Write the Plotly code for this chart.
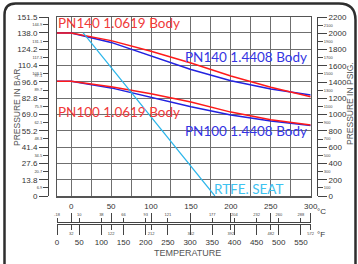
import plotly.graph_objects as go

# ---------------- data ----------------
temp_c = [-18, 0, 50, 100, 150, 200, 250, 300]
pn140_10619 = [138.0, 138.0, 131.5, 122.5, 112.5, 101.5, 92.0, 84.0]
pn140_14408 = [138.0, 138.0, 130.0, 118.5, 107.0, 97.5, 90.5, 85.5]
pn100_10619 = [97.1, 97.1, 92.5, 86.5, 79.5, 71.0, 64.5, 60.0]
pn100_14408 = [97.1, 97.1, 91.5, 83.5, 75.5, 68.5, 63.5, 59.6]
ptfe_t = [15, 180]
ptfe_bar = [138.0, 0.0]

bar_major = ["0", "13.8", "27.6", "41.4", "55.2", "69.0", "82.8", "96.6",
             "110.4", "124.2", "138.0", "151.5"]
bar_minor = ["6.9", "20.7", "34.5", "48.3", "62.1", "75.9", "89.7", "97.1",
             "103.5", "117.3", "131.1", "144.9"]
psi_major = ["0", "200", "400", "600", "800", "1000", "1200", "1400", "1600",
             "1800", "2000", "2200"]
psi_minor = ["100", "300", "500", "700", "900", "1100", "1300", "1500",
             "1700", "1900", "2100"]
c_major = ["0", "50", "100", "150", "200", "250", "300"]
c_in_f = ["32", "122", "212", "302", "392", "482", "572"]
f_major = ["0", "50", "100", "150", "200", "250", "300", "350", "400",
           "450", "500", "550"]
f_in_c = ["-18", "10", "38", "66", "93", "121", "", "177", "204", "232",
          "260", "288"]

# ---------------- geometry helpers ----------------
W, H = 358, 264
L, R, T, B = 48, 41, 17, 20
PW = W - L - R
PH = H - T - B


def px2x(px):
    return (px - L) / PW


def py2y(py):
    return (H - B - py) / PH


XDOM = [px2x(57), px2x(310.7)]
YDOM = [py2y(196), 1.0]
XR = [-17.78, 300]
YR = [0, 151.5]
PSIR = [0, 2200]


def f2c(f):
    return (float(f) - 32) / 1.8


AX = "#444444"
TF = "Liberation Sans, Arial, sans-serif"
LF = "Lato, Open Sans, sans-serif"

fig = go.Figure()

fig.add_trace(go.Scatter(x=temp_c, y=pn140_14408, mode="lines",
                         line=dict(color="#2222e0", width=1.5), showlegend=False))
fig.add_trace(go.Scatter(x=temp_c, y=pn100_14408, mode="lines",
                         line=dict(color="#2222e0", width=1.5), showlegend=False))
fig.add_trace(go.Scatter(x=temp_c, y=pn140_10619, mode="lines",
                         line=dict(color="#ff1a1a", width=1.5), showlegend=False))
fig.add_trace(go.Scatter(x=temp_c, y=pn100_10619, mode="lines",
                         line=dict(color="#ff1a1a", width=1.5), showlegend=False))
fig.add_trace(go.Scatter(x=ptfe_t, y=ptfe_bar, mode="lines",
                         line=dict(color="#2bb5ea", width=1.2), showlegend=False))

# dummy traces to register auxiliary axes
for xa, ya in [("x", "y2"), ("x", "y3"), ("x", "y4"), ("x", "y5"),
               ("x2", "y"), ("x3", "y"), ("x4", "y"), ("x5", "y")]:
    fig.add_trace(go.Scatter(x=[None], y=[None], xaxis=xa, yaxis=ya,
                             showlegend=False, hoverinfo="skip"))

common = dict(automargin=False, showgrid=False, zeroline=False, tickcolor=AX,
              linecolor=AX, tickwidth=1, linewidth=1)

bar_minor_text = [t + "<br> <br> " if t == "97.1" else t for t in bar_minor]

layout = dict(
    width=W, height=H, template="none",
    paper_bgcolor="white", plot_bgcolor="white",
    margin=dict(l=L, r=R, t=T, b=B, pad=0),
    showlegend=False,
    xaxis=dict(domain=XDOM, range=XR, tick0=0, dtick=25, showgrid=True,
               gridcolor="#6f6f6f", gridwidth=1, showticklabels=False,
               ticks="", showline=True, mirror=True, linecolor="#555555",
               linewidth=1.5, zeroline=False, automargin=False),
    yaxis=dict(domain=YDOM, range=YR, tick0=0, dtick=13.8, showgrid=True,
               gridcolor="#6f6f6f", gridwidth=1, showticklabels=False,
               ticks="", showline=True, mirror=True, linecolor="#555555",
               linewidth=1.5, zeroline=False, automargin=False),
    yaxis2=dict(common, overlaying="y", anchor="free", position=0, side="left",
                range=YR, tickmode="array",
                tickvals=[float(v) for v in bar_major], ticktext=bar_major,
                ticks="outside", ticklen=9, showline=True,
                tickfont=dict(family=TF, size=8, color="#333333")),
    yaxis3=dict(common, overlaying="y", anchor="free", position=0, side="left",
                range=YR, tickmode="array",
                tickvals=[float(v) for v in bar_minor], ticktext=bar_minor_text,
                ticks="outside", ticklen=5, showline=False,
                tickfont=dict(family=TF, size=4, color="#444444")),
    yaxis4=dict(common, overlaying="y", anchor="free", position=1, side="right",
                range=PSIR, tickmode="array",
                tickvals=[float(v) for v in psi_major], ticktext=psi_major,
                ticks="outside", ticklen=9, showline=True,
                tickfont=dict(family=TF, size=8, color="#333333")),
    yaxis5=dict(common, overlaying="y", anchor="free", position=1, side="right",
                range=PSIR, tickmode="array",
                tickvals=[float(v) for v in psi_minor], ticktext=psi_minor,
                ticks="outside", ticklen=5, showline=False,
                tickfont=dict(family=TF, size=4, color="#444444")),
    xaxis2=dict(common, overlaying="x", anchor="free", position=py2y(221.5),
                side="top", range=XR, tickmode="array",
                tickvals=[float(v) for v in c_major], ticktext=c_major,
                ticks="outside", ticklen=9, showline=True,
                tickfont=dict(family=TF, size=8, color="#333333")),
    xaxis3=dict(common, overlaying="x", anchor="free", position=py2y(224),
                side="bottom", range=XR, tickmode="array",
                tickvals=[float(v) for v in c_major], ticktext=c_in_f,
                ticks="outside", ticklen=5, showline=False,
                tickfont=dict(family=TF, size=4, color="#444444")),
    xaxis4=dict(common, overlaying="x", anchor="free", position=py2y(224),
                side="bottom", range=XR, tickmode="array",
                tickvals=[f2c(v) for v in f_major], ticktext=f_major,
                ticks="outside", ticklen=10, showline=True,
                tickfont=dict(family=TF, size=8, color="#333333")),
    xaxis5=dict(common, overlaying="x", anchor="free", position=py2y(221.5),
                side="top", range=XR, tickmode="array",
                tickvals=[f2c(v) for v, t in zip(f_major, f_in_c) if t],
                ticktext=[t for t in f_in_c if t],
                ticks="outside", ticklen=4, showline=False,
                tickfont=dict(family=TF, size=4, color="#444444")),
)
fig.update_layout(**layout)

ann = []


def add_text(text, px, py, size, color, xanchor="center", angle=0, family=LF):
    ann.append(dict(text=text, x=px2x(px), y=py2y(py), xref="paper",
                    yref="paper", showarrow=False, xanchor=xanchor,
                    yanchor="middle", textangle=angle,
                    font=dict(family=family, size=size, color=color),
                    borderpad=0))


add_text("PN140 1.0619 Body", 57, 23, 13.5, "#f03a3a", "left")
add_text("PN140 1.4408 Body", 308, 57, 13.5, "#3535e2", "right")
add_text("PN100 1.0619 Body", 57, 112, 13.5, "#f03a3a", "left")
add_text("PN100 1.4408 Body", 308, 131, 13.5, "#3535e2", "right")
add_text("RTFE. SEAT", 284, 189, 13.5, "#3ec2f0", "right")
add_text("PRESSURE IN BAR", 17, 108, 8.5, "#555555", angle=-90, family=TF)
add_text("PRESSURE IN PSIG.", 350, 104, 8.5, "#555555", angle=-90, family=TF)
add_text("TEMPERATURE", 187.5, 253, 9, "#555555", family=TF)
add_text("°C", 321, 211.5, 8, "#333333", family=TF)
add_text("°F", 321, 234, 8, "#333333", family=TF)
fig.update_layout(annotations=ann)


def P(px, py):
    return f"{px2x(px):.5f},{py2y(py):.5f}"


border = (f"M {P(4.5, 290)} L {P(4.5, 15)} Q {P(4.5, 3.5)} {P(15.5, 3.5)} "
          f"L {P(339, 3.5)} Q {P(355.5, 3.5)} {P(355.5, 20)} L {P(355.5, 290)}")
fig.update_layout(shapes=[dict(type="path", path=border, xref="paper",
                               yref="paper", line=dict(color="#2e2e2e", width=2.5),
                               layer="above")])

fig.write_html("out.html",
               config={"displayModeBar": False, "staticPlot": True},
               post_script="document.body.style.margin='0px';"
                           "document.body.style.overflow='hidden';")
